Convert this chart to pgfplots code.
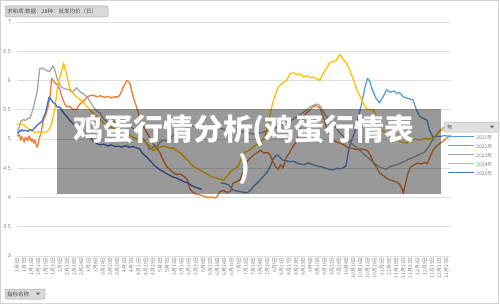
\documentclass[border=0pt]{standalone}
\usepackage{pgfplots}
\pgfplotsset{compat=1.18}
\usepackage{fontspec}
\setmainfont{Noto Sans CJK SC}
\definecolor{c21}{HTML}{5B9BD5}
\definecolor{c22}{HTML}{ED7D31}
\definecolor{c23}{HTML}{A5A5A5}
\definecolor{c24}{HTML}{FFC000}
\definecolor{c25}{HTML}{4472C4}
\definecolor{txt}{HTML}{7F7F7F}
\begin{document}
\begin{tikzpicture}[x=1bp,y=1bp]
\useasboundingbox (0,0) rectangle (500,304);
\draw[black!18, line width=0.8bp] (0.5,0.5) rectangle (498.5,303.5);
\begin{axis}[
  at={(17bp,48bp)}, anchor=south west, scale only axis,
  width=434bp, height=234bp,
  xmin=1, xmax=365, ymin=3, ymax=7,
  ytick={3,3.5,...,7},
  axis line style={draw=none},
  major tick length=0pt,
  ymajorgrids, grid style={black!12, line width=0.7bp},
  /pgf/number format/assume math mode=true,
  yticklabel style={font=\fontsize{5.5}{6}\selectfont, text=txt, xshift=-2.5bp, /pgf/number format/fixed},
  xtick={1,7,...,361},
  xticklabels={1月1日,1月7日,1月13日,1月19日,1月25日,1月31日,2月6日,2月12日,2月18日,2月24日,3月2日,3月8日,3月14日,3月20日,3月26日,4月1日,4月7日,4月13日,4月19日,4月25日,5月1日,5月7日,5月13日,5月19日,5月25日,5月31日,6月6日,6月12日,6月18日,6月24日,6月30日,7月6日,7月12日,7月18日,7月24日,7月30日,8月5日,8月11日,8月17日,8月23日,8月29日,9月4日,9月10日,9月16日,9月22日,9月28日,10月4日,10月10日,10月16日,10月22日,10月28日,11月3日,11月9日,11月15日,11月21日,11月27日,12月3日,12月9日,12月15日,12月21日,12月27日},
  xticklabel style={rotate=90, anchor=east, font=\fontsize{5}{5}\selectfont, text=txt, inner sep=1bp},
  every axis plot/.append style={line width=1.3bp, no markers, line join=round},
  legend cell align=left,
  legend style={draw=none, fill=none, inner sep=0pt, at={(0.9908,0.5235)}, anchor=north west,
    font=\fontsize{5}{6}\selectfont, text=txt,
    nodes={inner xsep=1.5bp, inner ysep=0bp, text height=5.5bp, text depth=3.5bp}},
  legend image code/.code={\draw[#1, line width=1.6bp] (0bp,1.8bp) -- (26bp,1.8bp);},
]
\addplot[c21] coordinates {(172,4.25)(175,4.24)(178,4.22)(180,4.18)(182,4.13)(185,4.11)(188,4.10)(191,4.09)(194,4.08)(197,4.13)(199,4.18)(202,4.24)(205,4.30)(208,4.37)(211,4.44)(214,4.56)(216,4.67)(219,4.73)(221,4.70)(224,4.64)(227,4.63)(230,4.61)(233,4.62)(236,4.59)(239,4.57)(242,4.56)(245,4.59)(248,4.57)(251,4.55)(254,4.53)(257,4.52)(260,4.50)(263,4.48)(266,4.47)(269,4.50)(272,4.49)(275,4.51)(277,4.55)(279,4.80)(281,4.95)(284,5.10)(287,5.35)(290,5.60)(293,5.90)(295,6.04)(297,5.98)(299,5.84)(302,5.70)(305,5.62)(308,5.72)(311,5.84)(314,5.80)(317,5.82)(320,5.78)(322,5.79)(325,5.72)(328,5.70)(331,5.68)(333,5.67)(336,5.50)(339,5.38)(342,5.35)(345,5.32)(347,5.15)(350,5.03)(353,5.05)(356,5.04)(359,5.06)(362,5.05)(365,5.05)};
\addlegendentry{2021年}
\addplot[c22] coordinates {(1,5.07)(2,5.05)(3,5.08)(4,4.98)(5,5.04)(6,5.00)(7,4.95)(8,5.03)(9,5.01)(10,4.97)(11,5.05)(12,5.02)(13,4.96)(14,5.00)(15,4.93)(16,4.98)(17,4.90)(18,4.86)(19,4.95)(20,5.03)(21,5.10)(22,5.20)(23,5.32)(25,5.40)(27,5.55)(28,5.66)(29,5.78)(30,6.04)(31,6.00)(33,5.96)(35,5.92)(37,5.84)(39,5.70)(41,5.60)(43,5.55)(45,5.56)(47,5.52)(49,5.50)(51,5.51)(53,5.58)(55,5.62)(57,5.66)(60,5.72)(62,5.74)(65,5.75)(68,5.72)(71,5.74)(74,5.71)(77,5.73)(80,5.70)(83,5.72)(86,5.72)(88,5.78)(90,5.89)(92,5.95)(93,6.00)(95,5.97)(96,5.93)(98,5.75)(100,5.62)(102,5.50)(104,5.34)(107,5.22)(110,5.10)(113,5.00)(115,4.93)(118,4.85)(121,4.76)(124,4.62)(127,4.52)(130,4.46)(132,4.42)(135,4.39)(138,4.40)(141,4.36)(144,4.30)(146,4.15)(148,4.10)(151,4.06)(155,4.04)(158,4.02)(161,4.00)(164,4.01)(167,3.99)(169,4.02)(171,4.10)(174,4.12)(177,4.09)(180,4.10)(182,4.24)(185,4.27)(188,4.30)(191,4.45)(194,4.62)(197,4.68)(200,4.74)(203,4.77)(205,4.81)(208,4.76)(211,4.77)(213,4.74)(216,4.60)(218,4.52)(220,4.48)(222,4.56)(224,4.50)(227,4.69)(230,4.78)(232,4.86)(236,4.98)(238,5.15)(241,5.38)(244,5.45)(247,5.50)(249,5.55)(252,5.57)(255,5.53)(258,5.38)(261,5.15)(264,5.05)(266,4.98)(269,4.95)(272,4.93)(275,4.90)(278,4.86)(282,4.84)(286,4.82)(290,4.83)(295,4.80)(298,4.70)(300,4.59)(303,4.50)(305,4.42)(308,4.38)(311,4.33)(314,4.30)(317,4.28)(320,4.26)(322,4.22)(324,4.15)(325,4.07)(327,4.25)(329,4.42)(331,4.52)(334,4.56)(337,4.59)(340,4.57)(343,4.60)(345,4.58)(348,4.72)(350,4.81)(353,4.88)(356,4.93)(359,4.97)(362,5.03)(365,5.05)};
\addlegendentry{2022年}
\addplot[c23] coordinates {(1,5.15)(3,5.20)(4,5.30)(6,5.33)(8,5.32)(10,5.35)(12,5.36)(14,5.48)(16,5.65)(18,5.82)(20,6.20)(22,6.21)(24,6.19)(26,6.17)(28,6.15)(30,6.20)(31,6.25)(32,6.22)(33,6.15)(35,6.02)(37,5.92)(39,5.88)(41,5.86)(43,5.85)(45,5.84)(47,5.80)(49,5.83)(51,5.88)(53,5.82)(56,5.78)(58,5.75)(60,5.72)(62,5.65)(65,5.55)(68,5.48)(71,5.44)(73,5.36)(76,5.30)(79,5.28)(82,5.30)(85,5.26)(88,5.24)(91,5.25)(94,5.22)(97,5.20)(100,5.15)(102,5.12)(104,5.08)(107,5.00)(110,4.92)(112,4.82)(114,4.84)(116,4.88)(118,4.86)(120,4.92)(123,4.98)(126,4.97)(129,5.00)(132,5.06)(135,5.12)(138,5.16)(141,5.18)(144,5.20)(148,5.22)(152,5.20)(156,5.22)(160,5.19)(164,5.20)(168,5.17)(172,5.18)(176,5.15)(180,5.17)(184,5.14)(188,5.12)(192,5.13)(196,5.10)(200,5.08)(204,5.10)(208,5.12)(212,5.15)(216,5.18)(220,5.20)(224,5.24)(228,5.28)(232,5.33)(236,5.38)(240,5.44)(244,5.50)(247,5.55)(250,5.58)(253,5.60)(255,5.57)(257,5.50)(260,5.40)(264,5.30)(268,5.20)(272,5.10)(276,5.02)(280,4.95)(284,4.88)(289,4.80)(293,4.72)(297,4.65)(301,4.58)(305,4.52)(308,4.50)(311,4.48)(313,4.52)(316,4.54)(318,4.55)(322,4.58)(326,4.62)(330,4.66)(335,4.70)(339,4.74)(343,4.78)(346,4.86)(350,5.00)(353,5.08)(356,5.15)(359,5.20)(362,5.22)(365,5.20)};
\addlegendentry{2023年}
\addplot[c24] coordinates {(1,5.24)(3,5.26)(5,5.25)(7,5.24)(9,5.20)(11,5.17)(13,5.14)(15,5.12)(17,5.11)(19,5.13)(21,5.10)(23,5.11)(25,5.12)(27,5.14)(29,5.20)(31,5.35)(33,5.55)(35,5.90)(37,6.06)(39,6.20)(40,6.30)(41,6.22)(42,6.15)(44,5.98)(45,5.89)(47,5.80)(49,5.76)(51,5.72)(54,5.67)(57,5.62)(60,5.55)(63,5.48)(66,5.42)(69,5.36)(71,5.33)(74,5.27)(77,5.22)(80,5.20)(84,5.16)(88,5.13)(93,5.10)(96,5.06)(98,5.03)(102,5.00)(106,4.97)(110,4.93)(113,4.86)(115,4.80)(118,4.83)(121,4.86)(124,4.88)(127,4.86)(130,4.84)(132,4.85)(135,4.80)(138,4.76)(141,4.70)(144,4.64)(147,4.57)(150,4.52)(154,4.47)(158,4.43)(162,4.38)(165,4.35)(169,4.33)(172,4.31)(174,4.30)(177,4.36)(180,4.44)(183,4.48)(186,4.52)(189,4.66)(192,4.77)(196,4.81)(199,4.86)(203,4.92)(207,4.98)(209,5.05)(211,5.20)(214,5.50)(217,5.72)(220,5.88)(223,5.95)(227,6.00)(230,6.12)(233,6.13)(236,6.10)(239,6.11)(241,6.06)(244,6.08)(247,6.05)(250,6.06)(253,6.02)(255,6.00)(258,6.13)(261,6.22)(263,6.30)(266,6.32)(269,6.35)(271,6.42)(272,6.45)(274,6.38)(277,6.30)(280,6.18)(283,6.02)(286,5.84)(289,5.72)(291,5.62)(294,5.52)(297,5.50)(300,5.50)(302,5.38)(305,5.20)(310,5.10)(315,5.04)(320,4.98)(324,4.95)(328,4.93)(331,4.99)(335,5.00)(339,4.98)(343,5.01)(347,5.00)(350,5.02)(353,5.08)(356,5.14)(360,5.16)(364,5.18)};
\addlegendentry{2024年}
\addplot[c25] coordinates {(1,5.12)(2,5.10)(3,5.15)(4,5.13)(5,5.16)(6,5.14)(8,5.15)(10,5.13)(12,5.16)(14,5.15)(16,5.19)(18,5.24)(20,5.27)(22,5.30)(23,5.36)(25,5.45)(26,5.55)(28,5.72)(29,5.69)(30,5.66)(31,5.63)(33,5.60)(35,5.54)(37,5.55)(39,5.48)(41,5.42)(43,5.38)(45,5.32)(48,5.26)(51,5.20)(54,5.15)(57,5.10)(60,5.06)(62,5.03)(64,4.99)(66,4.95)(68,4.92)(71,4.90)(74,4.91)(77,4.88)(80,4.90)(83,4.87)(86,4.88)(89,4.86)(92,4.89)(95,4.86)(98,4.87)(101,4.85)(104,4.83)(106,4.76)(108,4.72)(110,4.69)(112,4.64)(114,4.60)(116,4.55)(118,4.52)(121,4.47)(124,4.44)(127,4.40)(130,4.37)(132,4.35)(135,4.33)(138,4.30)(141,4.27)(144,4.25)(147,4.21)(150,4.18)(153,4.16)(156,4.14)};
\addlegendentry{2025年}
\end{axis}
% filter buttons
\draw[fill=black!15, draw=black!35, rounded corners=2bp, line width=0.5bp] (5,287) rectangle (108,298);
\node[anchor=west, inner sep=0, font=\fontsize{5.5}{6}\selectfont, text=black!70] at (7,292.5) {求和项:数据：28种：批发均价（日）};
\draw[fill=black!15, draw=black!35, rounded corners=2bp, line width=0.5bp] (5,5) rectangle (45,15);
\node[anchor=west, inner sep=0, font=\fontsize{5.5}{6}\selectfont, text=black!70] at (7,10) {指标名称};
\fill[black!60] (36,11.3) -- (40,11.3) -- (38,8.7) -- cycle;
\draw[fill=black!12, draw=black!30, rounded corners=1.5bp, line width=0.5bp] (444,172) rectangle (499,182);
\node[anchor=west, inner sep=0, font=\fontsize{5.5}{6}\selectfont, text=black!70] at (447,177) {年};
\fill[black!60] (490,178.3) -- (494,178.3) -- (492,175.7) -- cycle;
% overlay
\fill[black, opacity=0.4] (57,110) rectangle (441,195);
\node[text=white, font=\fontsize{30}{38}\selectfont\bfseries, align=center, inner sep=0] at (244,154) {鸡蛋行情分析(鸡蛋行情表\\)};
\end{tikzpicture}
\end{document}
